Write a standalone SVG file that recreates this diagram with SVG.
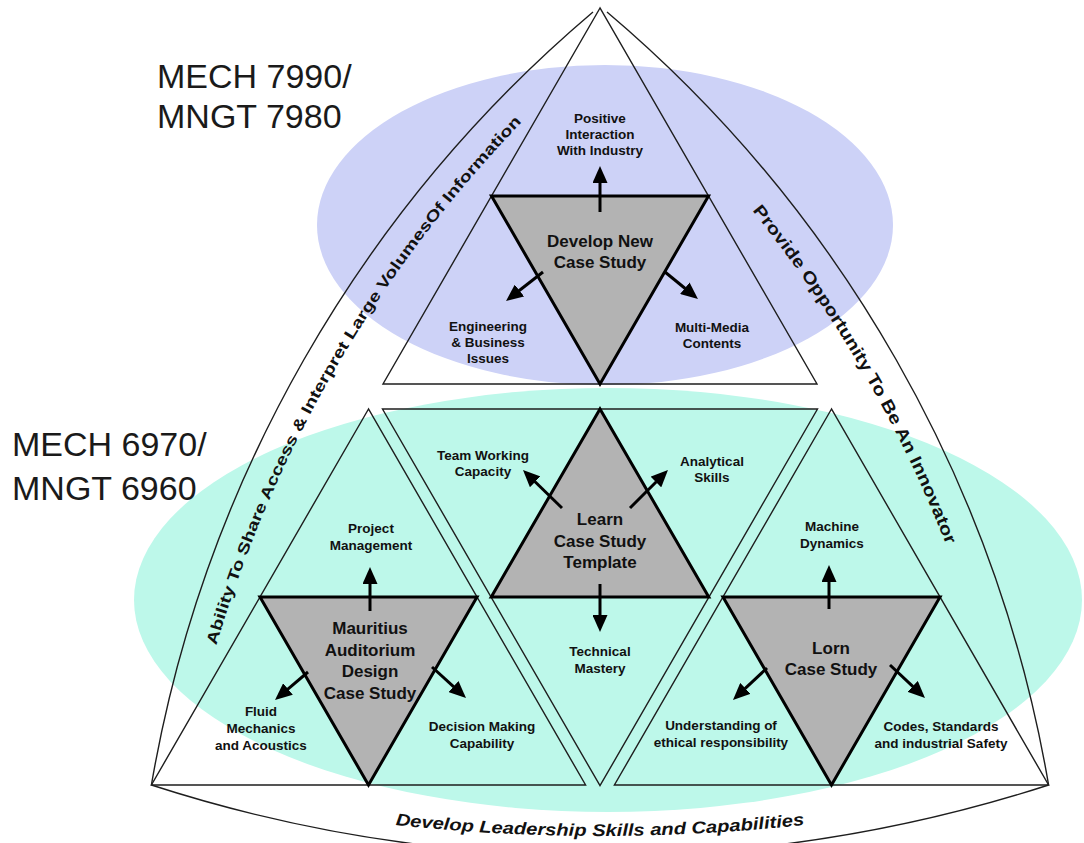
<svg xmlns="http://www.w3.org/2000/svg" width="1084" height="843" viewBox="0 0 1084 843">
<defs>
<marker id="ah" markerUnits="userSpaceOnUse" markerWidth="17" markerHeight="15" refX="0.5" refY="7.5" orient="auto">
<path d="M0,0 L17,7.5 L0,15 Z" fill="#000"/>
</marker>
<path id="pl" d="M 192.1 741.2 A 1268 1268 0 0 1 583.9 62.5"/>
<path id="pr" d="M 614.1 64.8 A 1265 1265 0 0 1 1005 741.8"/>
<path id="pb" d="M 370 822 Q 600 850 830 822"/>
</defs>
<style>
.thin{fill:none;stroke:#1e1e1e;stroke-width:1.4;stroke-linejoin:miter}
.gray{fill:#b3b3b3;stroke:#000;stroke-width:3;stroke-linejoin:miter}
.lbl{font-family:"Liberation Sans",Arial,sans-serif;font-weight:bold;font-size:13.5px;fill:#111;text-anchor:middle}
.main{font-size:17px}
.big{font-family:"Liberation Sans",Arial,sans-serif;font-size:34px;fill:#1a1a1a}
.side{font-family:"Liberation Sans",Arial,sans-serif;font-weight:bold;fill:#111;text-anchor:middle}
.arr{fill:none;stroke:#000;stroke-width:3;marker-end:url(#ah)}
</style>
<rect width="1084" height="843" fill="#fff"/>
<g id="backgrounds">
<ellipse cx="605" cy="225" rx="288" ry="160" fill="#cdd2f7"/>
<ellipse cx="608" cy="600" rx="474" ry="212" fill="#bdf8ea"/>
</g>
<g id="course-labels">
<text class="big" x="157" y="88">MECH 7990/</text>
<text class="big" x="157" y="128">MNGT 7980</text>
<text class="big" x="12" y="456">MECH 6970/</text>
<text class="big" x="12" y="500">MNGT 6960</text>
</g>
<g id="frame">
<path class="thin" d="M593,12 A1300,1300 0 0 0 151.4,785"/>
<path class="thin" d="M607,12 A1300,1300 0 0 1 1048.6,785"/>
<path class="thin" d="M151.4,785 A1459,1459 0 0 0 1048.6,785"/>
<text class="side" font-size="15.5"><textPath href="#pl" startOffset="50.8%" textLength="612" lengthAdjust="spacingAndGlyphs">Ability To Share Access &amp; Interpret Large VolumesOf Information</textPath></text>
<text class="side" font-size="17"><textPath href="#pr" startOffset="49.7%" textLength="388" lengthAdjust="spacingAndGlyphs">Provide Opportunity To Be An Innovator</textPath></text>
<text class="side" font-size="17" font-style="italic"><textPath href="#pb" startOffset="50%" textLength="410" lengthAdjust="spacingAndGlyphs">Develop Leadership Skills and Capabilities</textPath></text>
</g>
<g id="develop-new">
<polygon class="thin" points="600,8 383,384 817,384"/>
<polygon class="gray" points="491.5,196 708.5,196 600,384"/>
<text class="lbl main" x="600" y="247">Develop New</text>
<text class="lbl main" x="600" y="268">Case Study</text>
<text class="lbl" x="600" y="123">Positive</text>
<text class="lbl" x="600" y="139">Interaction</text>
<text class="lbl" x="600" y="155">With Industry</text>
<text class="lbl" x="488" y="331">Engineering</text>
<text class="lbl" x="488" y="347">&amp; Business</text>
<text class="lbl" x="488" y="363">Issues</text>
<text class="lbl" x="712" y="332">Multi-Media</text>
<text class="lbl" x="712" y="348">Contents</text>
</g>
<g id="learn-template">
<polygon class="thin" points="382.5,409 817.5,409 600,785.7"/>
<polygon class="gray" points="600,409 491.25,597 708.75,597"/>
<text class="lbl main" x="600" y="525">Learn</text>
<text class="lbl main" x="600" y="547">Case Study</text>
<text class="lbl main" x="600" y="568">Template</text>
<text class="lbl" x="483" y="460">Team Working</text>
<text class="lbl" x="483" y="476">Capacity</text>
<text class="lbl" x="712" y="466">Analytical</text>
<text class="lbl" x="712" y="482">Skills</text>
<text class="lbl" x="600" y="656">Technical</text>
<text class="lbl" x="600" y="673">Mastery</text>
</g>
<g id="mauritius">
<polygon class="thin" points="368.5,409 151.4,785 585.6,785"/>
<polygon class="gray" points="260,597 477,597 368.5,785"/>
<text class="lbl main" x="370" y="634">Mauritius</text>
<text class="lbl main" x="370" y="656">Auditorium</text>
<text class="lbl main" x="370" y="677">Design</text>
<text class="lbl main" x="370" y="699">Case Study</text>
<text class="lbl" x="371" y="533">Project</text>
<text class="lbl" x="371" y="550">Management</text>
<text class="lbl" x="261" y="716">Fluid</text>
<text class="lbl" x="261" y="733">Mechanics</text>
<text class="lbl" x="261" y="750">and Acoustics</text>
<text class="lbl" x="482" y="731">Decision Making</text>
<text class="lbl" x="482" y="748">Capability</text>
</g>
<g id="lorn">
<polygon class="thin" points="831.5,409 614.4,785 1048.6,785"/>
<polygon class="gray" points="723,597 940,597 831.5,785"/>
<text class="lbl main" x="831" y="654">Lorn</text>
<text class="lbl main" x="831" y="675">Case Study</text>
<text class="lbl" x="832" y="531">Machine</text>
<text class="lbl" x="832" y="548">Dynamics</text>
<text class="lbl" x="721" y="730">Understanding of</text>
<text class="lbl" x="721" y="747">ethical responsibility</text>
<text class="lbl" x="941" y="731">Codes, Standards</text>
<text class="lbl" x="941" y="748">and industrial Safety</text>
</g>
<g id="connectors">
<line class="arr" x1="600" y1="212" x2="600" y2="182.5"/>
<line class="arr" x1="543" y1="272" x2="519" y2="290.8"/>
<line class="arr" x1="665" y1="272" x2="685.2" y2="288.5"/>
<line class="arr" x1="562" y1="508" x2="534.8" y2="481.5"/>
<line class="arr" x1="630" y1="508" x2="656.3" y2="481.7"/>
<line class="arr" x1="600" y1="584" x2="600" y2="615.5"/>
<line class="arr" x1="370" y1="611" x2="370" y2="583.5"/>
<line class="arr" x1="308" y1="672" x2="287.6" y2="689.3"/>
<line class="arr" x1="432" y1="667" x2="453.8" y2="686.9"/>
<line class="arr" x1="829" y1="609" x2="829" y2="581.5"/>
<line class="arr" x1="767" y1="668" x2="745" y2="688.7"/>
<line class="arr" x1="890" y1="665" x2="913" y2="686.7"/>
</g>
</svg>
